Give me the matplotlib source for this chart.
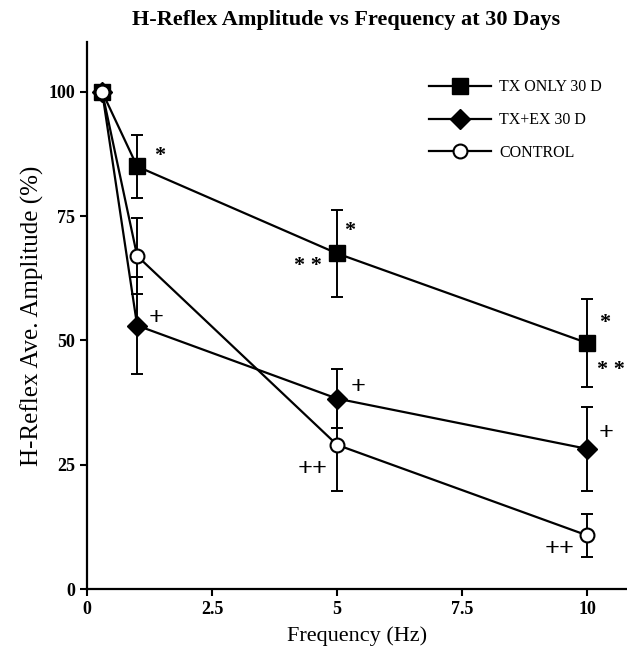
import matplotlib
matplotlib.use("Agg")
import matplotlib.pyplot as plt

# frequency (Hz)
freq = [0.3, 1, 5, 10]

# average amplitude (%) and error
tx_only = [100, 85, 67.5, 49.5]
tx_only_err = [0, 6.3, 8.8, 8.8]
tx_ex = [100, 53, 38.3, 28.2]
tx_ex_err = [0, 9.7, 6.0, 8.5]
control = [100, 67, 29, 10.8]
control_err = [0, 7.7, 9.2, 4.3]

# significance marks (x, y, text)
stars = [(1.45, 87, "*"), (5.26, 72, "*"), (4.42, 65, "* *"),
         (10.36, 53.5, "*"), (10.48, 44, "* *")]
plus = [(1.38, 54.5, "+"), (5.42, 40.5, "+"), (4.52, 24, "++"),
        (10.38, 31.3, "+"), (9.46, 8, "++")]

plt.rcParams['font.family'] = ['Liberation Serif', 'DejaVu Serif']

fig = plt.figure(figsize=(6.27, 6.48), dpi=100)
ax = fig.add_axes([0.139, 0.091, 0.861, 0.844])

eb = dict(fmt="none", ecolor="black", elinewidth=1.4, capsize=4, capthick=1.4, zorder=2)
ax.errorbar(freq, tx_only, yerr=tx_only_err, **eb)
ax.errorbar(freq, tx_ex, yerr=tx_ex_err, **eb)
ax.errorbar(freq, control, yerr=control_err, **eb)

ax.plot(freq, tx_only, color="black", linewidth=1.6, marker="s", markersize=11,
        markerfacecolor="black", label="TX ONLY 30 D", zorder=3)
ax.plot(freq, tx_ex, color="black", linewidth=1.6, marker="D", markersize=10,
        markerfacecolor="black", label="TX+EX 30 D", zorder=3)
ax.plot(freq, control, color="black", linewidth=1.6, marker="o", markersize=10,
        markerfacecolor="white", markeredgewidth=1.5, label="CONTROL", zorder=4)

for x, y, t in stars:
    ax.text(x, y, t, fontsize=16, ha="center", va="center", fontweight="bold")
for x, y, t in plus:
    ax.text(x, y, t, fontsize=19, ha="center", va="center", fontweight="bold")

ax.set_xlim(0, 10.8)
ax.set_ylim(0, 110)
ax.set_xticks([0, 2.5, 5, 7.5, 10])
ax.set_xticklabels(["0", "2.5", "5", "7.5", "10"])
ax.set_yticks([0, 25, 50, 75, 100])
ax.spines["top"].set_visible(False)
ax.spines["right"].set_visible(False)
ax.spines["left"].set_linewidth(1.6)
ax.spines["bottom"].set_linewidth(1.6)
ax.tick_params(direction="out", length=5, width=1.5, labelsize=13)
for lab in ax.get_xticklabels() + ax.get_yticklabels():
    lab.set_fontweight("bold")

ax.set_xlabel("Frequency (Hz)", fontsize=16, labelpad=6)
ax.set_ylabel("H-Reflex Ave. Amplitude (%)", fontsize=18, labelpad=3)
fig.suptitle("H-Reflex Amplitude vs Frequency at 30 Days", fontsize=16,
             fontweight="bold", x=0.552, y=0.985)

ax.legend(loc="upper left", bbox_to_anchor=(0.606, 0.958), frameon=False,
          fontsize=11.5, handlelength=3.9, handletextpad=0.5, labelspacing=1.05)

fig.savefig("out.png", dpi=100)
